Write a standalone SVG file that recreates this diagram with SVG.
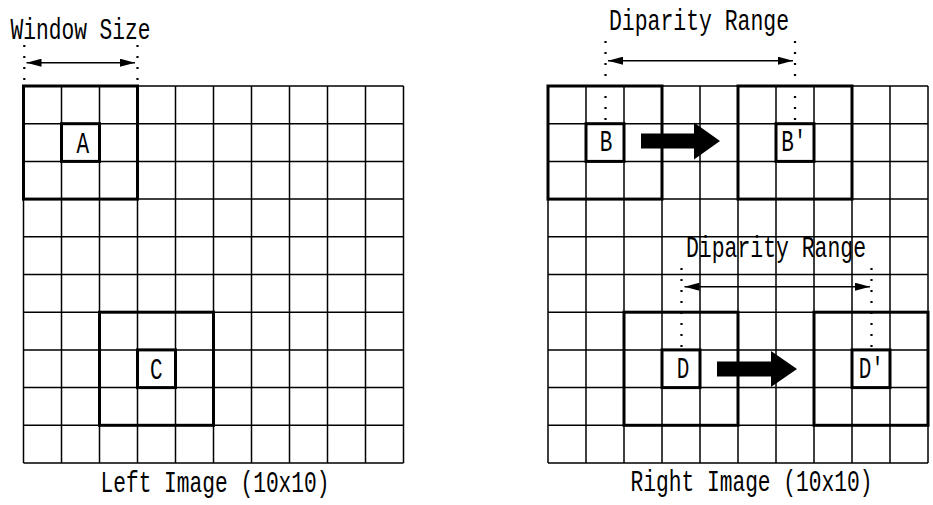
<svg xmlns="http://www.w3.org/2000/svg" width="933" height="505" viewBox="0 0 933 505">
<style>
.grid{fill:none;stroke:#000;stroke-width:1.5}
.win{fill:none;stroke:#000;stroke-width:3}
.cell{fill:#fff;stroke:#000;stroke-width:3}
.dots{fill:none;stroke:#000;stroke-width:2.2;stroke-dasharray:2 9}
.dim{fill:none;stroke:#000;stroke-width:1.5;marker-start:url(#ah);marker-end:url(#ah)}
.big{fill:#000;stroke:none}
text{font-family:"Liberation Mono","DejaVu Sans Mono",monospace;font-size:29px;fill:#000}
</style>
<defs>
<marker id="ah" markerUnits="userSpaceOnUse" markerWidth="16" markerHeight="8" refX="15" refY="4" orient="auto-start-reverse">
<path d="M0,0 L15,4 L0,8 z" fill="#000"/>
</marker>
</defs>

<g id="left-grid">
<path class="grid" d="M23.5,86V463M61.5,86V463M99.5,86V463M137.5,86V463M175.5,86V463M213.5,86V463M251.5,86V463M289.5,86V463M327.5,86V463M365.5,86V463M403.5,86V463M23.5,86H403.5M23.5,123.7H403.5M23.5,161.4H403.5M23.5,199.1H403.5M23.5,236.8H403.5M23.5,274.5H403.5M23.5,312.2H403.5M23.5,349.9H403.5M23.5,387.6H403.5M23.5,425.3H403.5M23.5,463H403.5"/>
</g>
<g id="right-grid">
<path class="grid" d="M548,86V463M586,86V463M624,86V463M662,86V463M700,86V463M738,86V463M776,86V463M814,86V463M852,86V463M890,86V463M928,86V463M548,86H928M548,123.7H928M548,161.4H928M548,199.1H928M548,236.8H928M548,274.5H928M548,312.2H928M548,349.9H928M548,387.6H928M548,425.3H928M548,463H928"/>
</g>

<g id="window-a">
<rect class="win" x="23.5" y="86" width="114" height="113.1"/>
<rect class="cell" x="61.5" y="123.7" width="38" height="37.7"/>
<text x="76.4" y="152.5" textLength="12.6" lengthAdjust="spacingAndGlyphs">A</text>
</g>
<g id="window-c">
<rect class="win" x="99.5" y="312.2" width="114" height="113.1"/>
<rect class="cell" x="137.5" y="349.9" width="38" height="37.7"/>
<text x="150" y="378.5" textLength="12.6" lengthAdjust="spacingAndGlyphs">C</text>
</g>
<g id="window-b">
<rect class="win" x="548" y="86" width="114" height="113.1"/>
<rect class="cell" x="586" y="123.7" width="38" height="37.7"/>
<text x="599.7" y="150.5" textLength="12.6" lengthAdjust="spacingAndGlyphs">B</text>
</g>
<g id="window-b2">
<rect class="win" x="738" y="86" width="114" height="113.1"/>
<rect class="cell" x="776" y="123.7" width="38" height="37.7"/>
<text x="781.2" y="150.5" textLength="25.2" lengthAdjust="spacingAndGlyphs">B'</text>
</g>
<g id="window-d">
<rect class="win" x="624" y="312.2" width="114" height="113.1"/>
<rect class="cell" x="662" y="349.9" width="38" height="37.7"/>
<text x="676.7" y="378" textLength="12.6" lengthAdjust="spacingAndGlyphs">D</text>
</g>
<g id="window-d2">
<rect class="win" x="814" y="312.2" width="114" height="113.1"/>
<rect class="cell" x="852" y="349.9" width="38" height="37.7"/>
<text x="858.7" y="378" textLength="25.2" lengthAdjust="spacingAndGlyphs">D'</text>
</g>

<g id="labels">
<text x="10.5" y="39" textLength="140" lengthAdjust="spacingAndGlyphs">Window Size</text>
<text x="609" y="30" textLength="180" lengthAdjust="spacingAndGlyphs">Diparity Range</text>
<text x="686" y="256.5" textLength="180" lengthAdjust="spacingAndGlyphs">Diparity Range</text>
<text x="100.5" y="492" textLength="229" lengthAdjust="spacingAndGlyphs">Left Image (10x10)</text>
<text x="630.5" y="491" textLength="242" lengthAdjust="spacingAndGlyphs">Right Image (10x10)</text>
</g>

<g id="connectors">
<path class="dots" d="M24.3,45V81M137.5,45V81"/>
<line class="dim" x1="26.5" y1="62.7" x2="135" y2="62.7"/>
<path class="dots" d="M605.5,41V121M795,41V121"/>
<line class="dim" x1="608" y1="60.7" x2="793" y2="60.7"/>
<path class="dots" d="M681.5,268V347M871.5,268V347"/>
<line class="dim" x1="684.5" y1="286.7" x2="870" y2="286.7"/>
<polygon class="big" points="641,133.5 694,133.5 694,122.5 720,141 694,159.5 694,148.5 641,148.5"/>
<polygon class="big" points="717,361.5 771,361.5 771,351 797,369 771,387 771,376.5 717,376.5"/>
</g>
</svg>
